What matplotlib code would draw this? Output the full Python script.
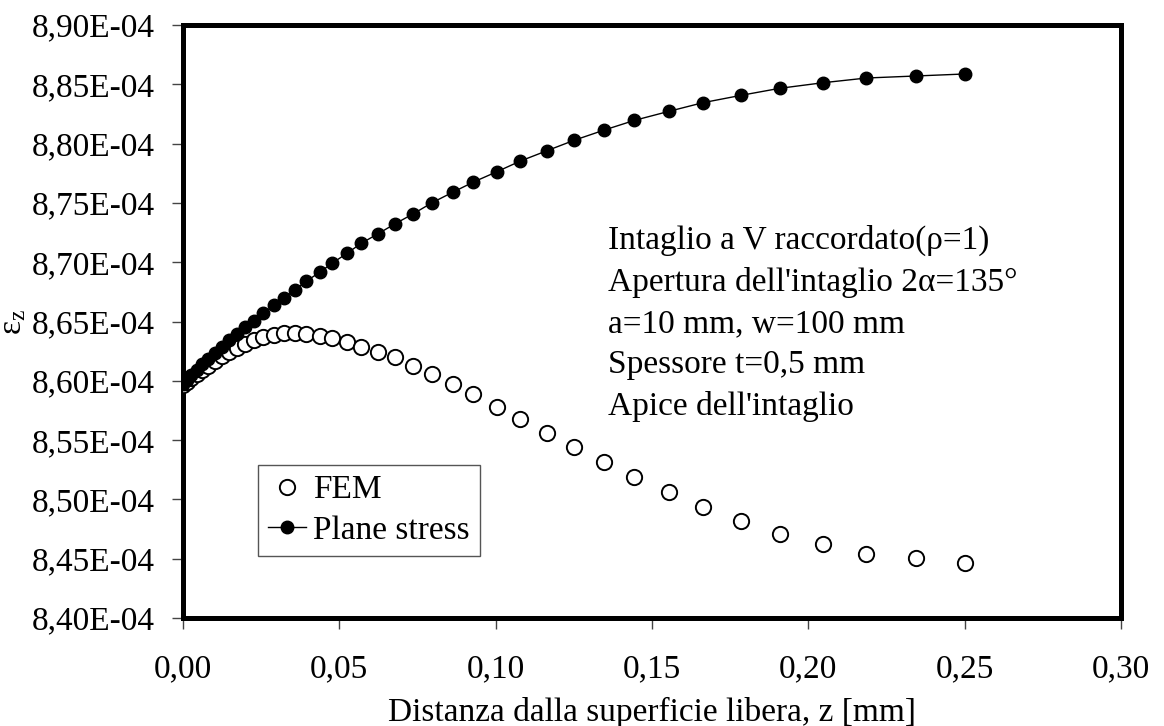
import numpy as np
import matplotlib
matplotlib.use("Agg")
import matplotlib.pyplot as plt
from matplotlib.ticker import FuncFormatter, MultipleLocator

plt.rcParams['font.family'] = ['Liberation Serif', 'DejaVu Serif']
plt.rcParams['mathtext.fontset'] = 'custom'
plt.rcParams['mathtext.rm'] = 'Liberation Serif'
plt.rcParams['mathtext.it'] = 'Liberation Serif:italic'

# distance from free surface, z [mm]
z = [0.0, 0.0012, 0.0027, 0.0044, 0.0062, 0.0081, 0.0102, 0.0124, 0.0148, 0.0172,
     0.0197, 0.0227, 0.0257, 0.0290, 0.0324, 0.0358, 0.0394, 0.0437, 0.0478, 0.0524,
     0.0570, 0.0624, 0.0677, 0.0737, 0.0797, 0.0862, 0.0929, 0.1004, 0.1079, 0.1164,
     0.1251, 0.1348, 0.1444, 0.1554, 0.1663, 0.1785, 0.1908, 0.2046, 0.2186, 0.2343,
     0.2500]

# strain eps_z, in units of 1E-04
fem = [8.5965, 8.5990, 8.6020, 8.6055, 8.6090, 8.6125, 8.6165, 8.6205, 8.6245, 8.6280,
       8.6310, 8.6340, 8.6372, 8.6386, 8.6400, 8.6400, 8.6395, 8.6378, 8.6361, 8.6327,
       8.6288, 8.6245, 8.6201, 8.6127, 8.6057, 8.5969, 8.5887, 8.5777, 8.5676, 8.5557,
       8.5439, 8.5313, 8.5189, 8.5060, 8.4933, 8.4818, 8.4708, 8.4624, 8.4537, 8.4503,
       8.4466]

plane_stress = [8.5975, 8.6010, 8.6050, 8.6095, 8.6140, 8.6187, 8.6237, 8.6287, 8.6344, 8.6394,
                8.6451, 8.6506, 8.6569, 8.6636, 8.6698, 8.6768, 8.6839, 8.6915, 8.6993, 8.7074,
                8.7159, 8.7240, 8.7322, 8.7409, 8.7502, 8.7589, 8.7676, 8.7763, 8.7853, 8.7940,
                8.8028, 8.8115, 8.8196, 8.8272, 8.8345, 8.8407, 8.8466, 8.8513, 8.8553, 8.8570,
                8.8587]

info_lines = ["Intaglio a V raccordato(ρ=1)",
              "Apertura dell'intaglio 2α=135°",
              "a=10 mm, w=100 mm",
              "Spessore t=0,5 mm",
              "Apice dell'intaglio"]

fs = 24

fig = plt.figure(figsize=(11.64, 7.26), dpi=100)
ax = fig.add_axes([183/1164, 108/726, 938/1164, 593/726])

ax.plot(z, np.array(fem) * 1e-4, 'o', mfc='white', mec='black', ms=11, mew=1.4,
        label='FEM', zorder=3)
ax.plot(z, np.array(plane_stress) * 1e-4, 'o-', color='black', mfc='black', ms=9,
        lw=1, label='Plane stress', zorder=4)

ax.set_xlim(0, 0.30)
ax.set_ylim(8.40e-4, 8.90e-4)
ax.xaxis.set_major_locator(MultipleLocator(0.05))
ax.yaxis.set_major_locator(MultipleLocator(0.05e-4))
ax.xaxis.set_major_formatter(FuncFormatter(lambda v, p: f"{v:.2f}".replace('.', ',')))
ax.yaxis.set_major_formatter(FuncFormatter(lambda v, p: f"{v*1e4:.2f}".replace('.', ',') + "E-04"))

for s in ax.spines.values():
    s.set_linewidth(3.6)
ax.tick_params(direction='out', length=8, width=1, color='#444444', labelsize=fs)
ax.tick_params(axis='y', pad=12)
ax.tick_params(axis='x', pad=18)

ax.set_xlabel("Distanza dalla superficie libera, z [mm]", fontsize=fs, labelpad=9)
ax.set_ylabel(r"ε$_\mathrm{z}$", fontsize=fs)
ax.yaxis.set_label_coords(-0.165, 0.499)

ax.text(0.453, 0.497, "\n".join(info_lines), transform=ax.transAxes, fontsize=fs,
        va='center', ha='left', linespacing=1.45)

leg = ax.legend(loc='lower left', bbox_to_anchor=(0.08, 0.105), fontsize=fs,
                frameon=True, fancybox=False, edgecolor='#555555', framealpha=1,
                borderpad=0.3, handlelength=1.15, handletextpad=0.2, labelspacing=0.3,
                borderaxespad=0)
leg.get_frame().set_linewidth(1)

fig.savefig("out.png", dpi=100)
